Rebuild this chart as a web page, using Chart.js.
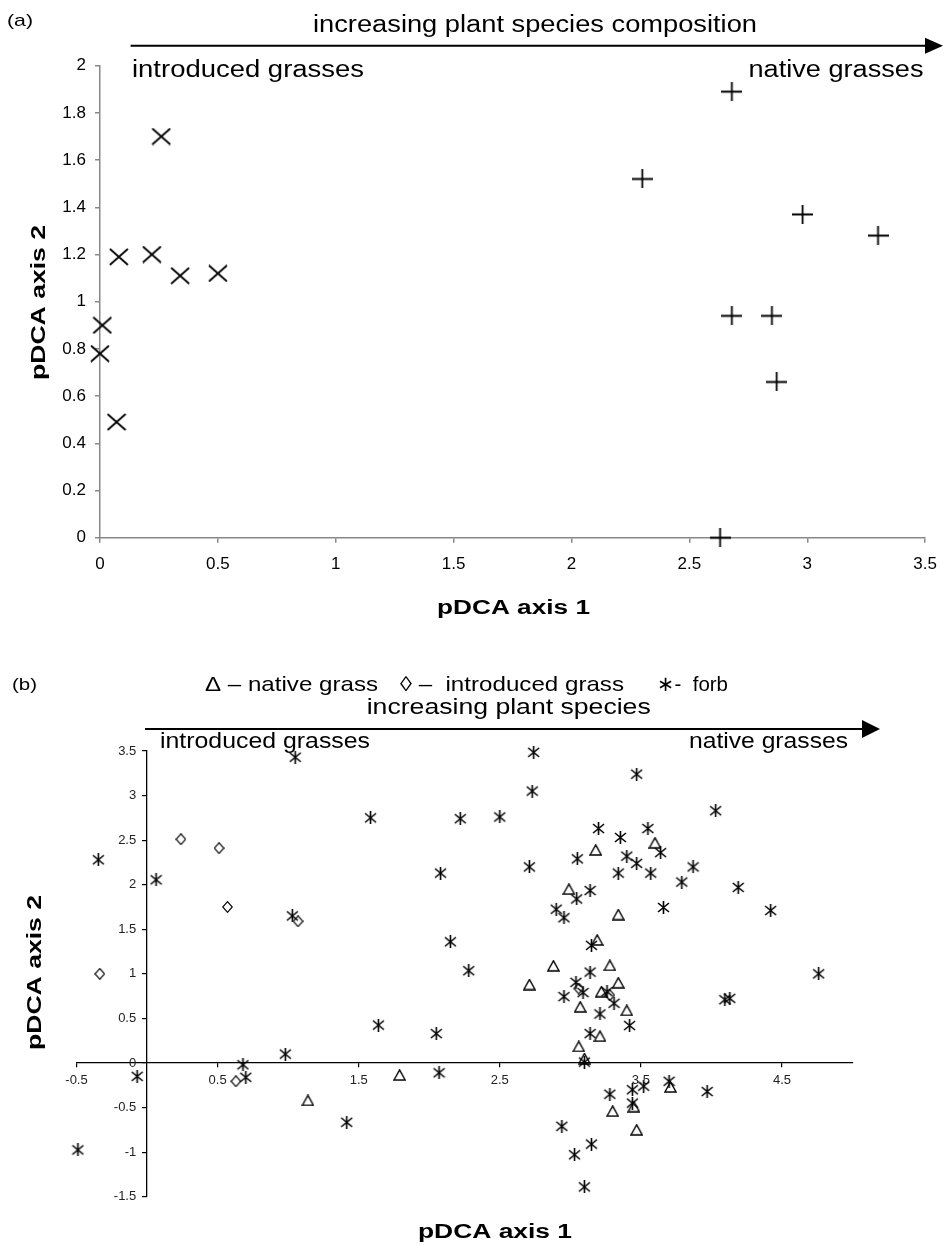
<!DOCTYPE html>
<html>
<head>
<meta charset="utf-8">
<script src="https://cdn.jsdelivr.net/npm/chart.js@4/dist/chart.umd.min.js"></script>
<style>
  html, body { margin: 0; padding: 0; background: #fff; }
  body { width: 948px; height: 1246px; position: relative; overflow: hidden; }
  canvas { position: absolute; left: 0; }
  #ca { top: 0; }
  #cb { top: 625px; }
</style>
</head>
<body>
<canvas id="ca" width="948" height="625"></canvas>
<canvas id="cb" width="948" height="621"></canvas>
<script>
// ---------- Panel (a) data ----------
const aIntroducedX = [0.26, 0.08, 0.22, 0.34, 0.50, 0.01, 0.00, 0.07];
const aIntroducedY = [1.70, 1.19, 1.20, 1.11, 1.12, 0.90, 0.78, 0.49];
const aNativeX = [2.68, 2.30, 2.98, 3.30, 2.68, 2.85, 2.87, 2.63];
const aNativeY = [1.89, 1.52, 1.37, 1.28, 0.94, 0.94, 0.66, 0.00];
const aXTicks = [0, 0.5, 1, 1.5, 2, 2.5, 3, 3.5];
const aYTicks = [0, 0.2, 0.4, 0.6, 0.8, 1, 1.2, 1.4, 1.6, 1.8, 2];

// ---------- Panel (b) data ----------
const bNativeX = [3.60, 3.18, 2.99, 3.34, 3.19, 2.88, 3.28, 2.71, 3.34, 3.22, 3.07, 3.40, 3.21, 3.06, 3.10, 3.71, 3.45, 3.30, 3.47, 1.14, 1.79];
const bNativeY = [2.47, 2.39, 1.95, 1.665, 1.38, 1.09, 1.095, 0.88, 0.90, 0.80, 0.63, 0.59, 0.30, 0.185, 0.05, -0.27, -0.49, -0.54, -0.75, -0.42, -0.135];
const bIntroducedX = [0.24, 0.51, 0.57, 1.07, -0.335, 0.63, 3.06, 3.28];
const bIntroducedY = [2.51, 2.41, 1.75, 1.59, 1.00, -0.205, 0.835, 0.76];
const bForbX = [-0.345, 0.064, 1.03, 1.05, 1.584, 2.22, 2.08, 2.15, 2.28, 1.64, 2.05, 0.98, 0.68, 0.70, -0.07, 2.07, 1.415, -0.49,
  2.74, 2.73, 2.50, 3.47, 4.03, 3.20, 3.55, 3.355, 3.64, 3.40, 3.05, 3.47, 2.71, 3.34, 3.57, 3.87, 3.79, 4.19, 3.14, 3.045, 2.90, 2.955, 3.66, 4.42,
  3.15, 3.14, 3.04, 3.26, 3.09, 2.955, 3.31, 3.21, 3.42, 3.14, 3.10, 3.70, 3.52, 3.44, 3.97, 3.28, 3.44, 2.94, 3.15, 3.03, 3.10, 4.095, 4.13, 4.76];
const bForbY = [2.28, 2.055, 1.65, 3.43, 2.75, 2.74, 2.13, 1.36, 1.035, 0.425, 0.33, 0.10, -0.02, -0.16, -0.15, -0.11, -0.665, -0.975,
  3.485, 3.05, 2.76, 3.24, 2.83, 2.63, 2.63, 2.53, 2.36, 2.32, 2.29, 2.24, 2.20, 2.13, 2.13, 2.20, 2.03, 1.97, 1.935, 1.84, 1.725, 1.63, 1.745, 1.71,
  1.32, 1.02, 0.905, 0.80, 0.79, 0.745, 0.67, 0.55, 0.42, 0.33, 0.01, -0.205, -0.26, -0.30, -0.32, -0.35, -0.45, -0.71, -0.91, -1.03, -1.39, 0.71, 0.725, 1.00];
const bXTicks = [-0.5, 0.5, 1.5, 2.5, 3.5, 4.5];
const bYTicks = [-1.5, -1, -0.5, 0, 0.5, 1, 1.5, 2, 2.5, 3, 3.5];

// ---------- helpers ----------
const FONT = '"Liberation Sans", Arial, Helvetica, sans-serif';
function pts(xs, ys) { return xs.map((x, i) => ({ x: x, y: ys[i] })); }

function marker(w, h, lw, draw) {
  const c = document.createElement('canvas');
  c.width = w; c.height = h;
  const g = c.getContext('2d');
  g.strokeStyle = '#000'; g.lineWidth = lw; g.lineCap = 'butt';
  g.beginPath(); draw(g, w, h); g.stroke();
  return c;
}
const mX = marker(20, 18, 1.8, (g, w, h) => { g.moveTo(1, 1); g.lineTo(w - 1, h - 1); g.moveTo(w - 1, 1); g.lineTo(1, h - 1); });
const mPlus = marker(21, 19, 1.8, (g, w, h) => { g.moveTo(0, h / 2); g.lineTo(w, h / 2); g.moveTo(w / 2, 0); g.lineTo(w / 2, h); });
const mStar = marker(13, 13, 1.6, (g, w, h) => { g.moveTo(w / 2, 0); g.lineTo(w / 2, h); g.moveTo(1, 2); g.lineTo(w - 1, h - 2); g.moveTo(w - 1, 2); g.lineTo(1, h - 2); });
const mTri = marker(13, 12, 1.4, (g, w, h) => { g.moveTo(w / 2, 0.9); g.lineTo(w - 0.9, h - 1); g.lineTo(0.9, h - 1); g.closePath(); });
const mDia = marker(11, 12, 1.2, (g, w, h) => { g.moveTo(w / 2, 0.7); g.lineTo(w - 0.7, h / 2); g.lineTo(w / 2, h - 0.7); g.lineTo(0.7, h / 2); g.closePath(); });

function fitText(ctx, it) {
  ctx.save();
  ctx.font = (it.bold ? 'bold ' : '') + it.size + 'px ' + FONT;
  ctx.fillStyle = '#000';
  ctx.textAlign = 'left';
  ctx.textBaseline = 'alphabetic';
  const w0 = ctx.measureText(it.t).width;
  const sx = it.w ? it.w / w0 : 1;
  ctx.translate(it.x, it.y);
  if (it.rot) ctx.rotate(it.rot);
  ctx.scale(sx, 1);
  ctx.fillText(it.t, 0, 0);
  ctx.restore();
}

const annot = {
  id: 'annot',
  afterDraw(chart, args, opts) {
    const ctx = chart.ctx;
    (opts.arrows || []).forEach(a => {
      ctx.save();
      ctx.strokeStyle = '#000'; ctx.fillStyle = '#000'; ctx.lineWidth = a.lw;
      ctx.beginPath(); ctx.moveTo(a.x1, a.y); ctx.lineTo(a.base, a.y); ctx.stroke();
      ctx.beginPath(); ctx.moveTo(a.x2, a.y); ctx.lineTo(a.base, a.y - a.half); ctx.lineTo(a.base, a.y + a.half); ctx.closePath(); ctx.fill();
      ctx.restore();
    });
    (opts.items || []).forEach(it => fitText(chart.ctx, it));
  }
};
Chart.register(annot);

function setTicks(list) { return s => { s.ticks = list.map(v => ({ value: v })); }; }

// ---------- Chart (a) ----------
new Chart(document.getElementById('ca'), {
  type: 'scatter',
  data: {
    datasets: [
      { label: 'introduced grasses', data: pts(aIntroducedX, aIntroducedY), pointStyle: mX, pointRadius: 8, clip: false },
      { label: 'native grasses', data: pts(aNativeX, aNativeY), pointStyle: mPlus, pointRadius: 8, clip: false }
    ]
  },
  options: {
    responsive: false, animation: false, devicePixelRatio: 1,
    layout: { padding: { left: 60, top: 65.7, right: 12.4, bottom: 47.3 } },
    plugins: {
      legend: { display: false }, tooltip: { enabled: false },
      annot: {
        arrows: [{ x1: 130.6, x2: 943, base: 925, y: 45.7, half: 8, lw: 2 }],
        items: [
          { t: '(a)', x: 7, y: 26, size: 17, w: 26 },
          { t: 'increasing plant species composition', x: 313, y: 32, size: 23, w: 444 },
          { t: 'introduced grasses', x: 132, y: 77, size: 23, w: 232 },
          { t: 'native grasses', x: 748.5, y: 77, size: 23, w: 175 },
          { t: 'pDCA axis 1', x: 437, y: 614, size: 20, bold: true, w: 153 },
          { t: 'pDCA axis 2', x: 45, y: 380, size: 20, bold: true, w: 155, rot: -Math.PI / 2 }
        ]
      }
    },
    scales: {
      x: {
        type: 'linear', position: 'bottom', min: 0, max: 3.5,
        afterBuildTicks: setTicks(aXTicks), afterFit: s => { s.height = 40; },
        grid: { display: true, drawOnChartArea: false, drawTicks: true, tickLength: 5, color: '#888', lineWidth: 1.5 },
        border: { display: true, color: '#888', width: 1.5 },
        ticks: { color: '#000', font: { size: 17, family: FONT }, padding: 11, maxRotation: 0, autoSkip: false, callback: v => String(v) }
      },
      y: {
        type: 'linear', position: 'left', min: 0, max: 2,
        afterBuildTicks: setTicks(aYTicks), afterFit: s => { s.width = 40; },
        grid: { display: true, drawOnChartArea: false, drawTicks: true, tickLength: 5, color: '#888', lineWidth: 1.5 },
        border: { display: true, color: '#888', width: 1.5 },
        ticks: { color: '#000', font: { size: 17, family: FONT }, padding: 9, autoSkip: false, callback: v => String(v) }
      }
    }
  }
});

// ---------- Chart (b) ----------
new Chart(document.getElementById('cb'), {
  type: 'scatter',
  data: {
    datasets: [
      { label: 'native grass', data: pts(bNativeX, bNativeY), pointStyle: mTri, pointRadius: 6, clip: false },
      { label: 'introduced grass', data: pts(bIntroducedX, bIntroducedY), pointStyle: mDia, pointRadius: 6, clip: false },
      { label: 'forb', data: pts(bForbX, bForbY), pointStyle: mStar, pointRadius: 6, clip: false }
    ]
  },
  options: {
    responsive: false, animation: false, devicePixelRatio: 1,
    layout: { padding: { left: 76.5, top: 126, right: 95.5, bottom: 49.3 } },
    plugins: {
      legend: { display: false }, tooltip: { enabled: false },
      annot: {
        arrows: [{ x1: 145, x2: 880, base: 862, y: 104, half: 9, lw: 2 }],
        items: [
          { t: '(b)', x: 12, y: 65, size: 17, w: 25 },
          { t: '\u0394 \u2013 native grass', x: 205, y: 65.7, size: 21, w: 173 },
          { t: '\u25CA \u2013  introduced grass', x: 400, y: 65.7, size: 21, w: 224 },
          { t: '\u2217-  forb', x: 657, y: 65.7, size: 21, w: 71 },
          { t: 'increasing plant species', x: 366.7, y: 89, size: 22, w: 284 },
          { t: 'introduced grasses', x: 160, y: 123, size: 22, w: 210 },
          { t: 'native grasses', x: 689, y: 123, size: 22, w: 159 },
          { t: 'pDCA axis 1', x: 418, y: 613, size: 20, bold: true, w: 154 },
          { t: 'pDCA axis 2', x: 41, y: 425, size: 20, bold: true, w: 155, rot: -Math.PI / 2 }
        ]
      }
    },
    scales: {
      x: {
        type: 'linear', position: { y: 0 }, min: -0.5, max: 5,
        afterBuildTicks: setTicks(bXTicks),
        grid: { display: true, drawOnChartArea: false, drawTicks: true, tickLength: 4, color: '#000', lineWidth: 1.2 },
        border: { display: true, color: '#000', width: 1.3 },
        ticks: { color: '#222', font: { size: 13, family: FONT }, padding: 6, maxRotation: 0, autoSkip: false, callback: v => String(v) }
      },
      y: {
        type: 'linear', position: { x: 0 }, min: -1.5, max: 3.5,
        afterBuildTicks: setTicks(bYTicks),
        grid: { display: true, drawOnChartArea: false, drawTicks: true, tickLength: 4, color: '#000', lineWidth: 1.2 },
        border: { display: true, color: '#000', width: 1.3 },
        // labels of a value-positioned y axis sit on the axis line; trailing spaces give the gap
        ticks: { color: '#222', font: { size: 13, family: FONT }, autoSkip: false, callback: v => String(v) + '   ' }
      }
    }
  }
});
</script>
</body>
</html>
